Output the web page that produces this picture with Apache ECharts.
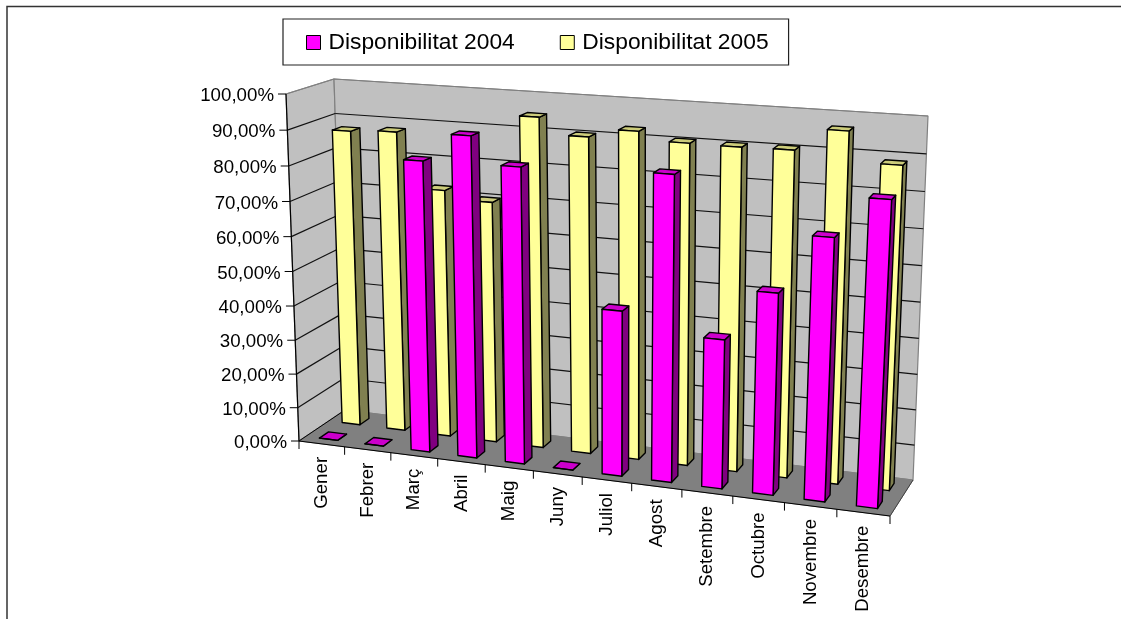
<!DOCTYPE html>
<html><head><meta charset="utf-8">
<style>html,body{margin:0;padding:0;background:#fff}#c{width:1121px;height:619px}</style>
<script src="https://cdn.jsdelivr.net/npm/echarts@6/dist/echarts.min.js"></script>
</head><body><div id="c"></div>
<script>
const categories=['Gener','Febrer','Març','Abril','Maig','Juny','Juliol','Agost','Setembre','Octubre','Novembre','Desembre'];
const disponibilitat2004=[0,0,83.3,91.2,83.7,0,46.6,84.8,41.5,55.5,71.5,82.5];
const disponibilitat2005=[87.2,87.9,72.3,70,94.8,90.3,92.8,90.5,90.4,90.6,96.6,88.6];
const yTicks=[0,10,20,30,40,50,60,70,80,90,100];
const yTickLabels=['0,00%','10,00%','20,00%','30,00%','40,00%','50,00%','60,00%','70,00%','80,00%','90,00%','100,00%'];

const FONT='"Liberation Sans",Arial,sans-serif';
const C={fx:[299,441],ft:[286,94],bx:[345,410],bt:[334,79],rfx:[890,516],rft:[909,135],rbx:[913,480],rbt:[928,116]};
const warp=(t,k)=>k*t/(1-(1-k)*t);
const mix=(a,b,t)=>[a[0]+(b[0]-a[0])*t,a[1]+(b[1]-a[1])*t];
function project(u,v,h){
  const H=warp(h,0.955),U=warp(u,0.92-0.02*H);
  const lf=mix(C.fx,C.ft,H),lb=mix(C.bx,C.bt,H),rf=mix(C.rfx,C.rft,H),rb=mix(C.rbx,C.rbt,H);
  return mix(mix(lf,rf,U),mix(lb,rb,U),v);
}
function norm(api,params,cat,val){
  const cs=params.coordSys,p=api.coord([cat,val]);
  return {u:(p[0]-cs.x)/cs.width,h:(cs.y+cs.height-p[1])/cs.height,band:api.size([1,0])[0]/cs.width};
}
const poly=(pts,fill,stroke,lw)=>({type:'polygon',shape:{points:pts},style:{fill:fill,stroke:stroke||'none',lineWidth:lw||1,lineJoin:'round'}});
const seg=(a,b,stroke,lw)=>({type:'line',shape:{x1:a[0],y1:a[1],x2:b[0],y2:b[1]},style:{stroke:stroke,lineWidth:lw||1}});

function barRenderer(v0,v1,front,side,top){
  return function(params,api){
    const cat=api.value(0),val=api.value(1);
    const n=norm(api,params,cat,val);
    const u0=n.u-0.2*n.band,u1=n.u+0.2*n.band,h=n.h;
    const P=project;
    return {type:'group',children:[
      poly([P(u1,v0,0),P(u1,v1,0),P(u1,v1,h),P(u1,v0,h)],side,'#000',1.4),
      poly([P(u0,v0,h),P(u1,v0,h),P(u1,v1,h),P(u0,v1,h)],top,'#000',1.4),
      poly([P(u0,v0,0),P(u1,v0,0),P(u1,v0,h),P(u0,v0,h)],front,'#000',1.4)
    ]};
  };
}
function planes(){
  return {type:'group',children:[
    poly([project(0,0,0),project(0,1,0),project(0,1,1),project(0,0,1)],'#C0C0C0','#808080',1.2),
    poly([project(0,1,0),project(1,1,0),project(1,1,1),project(0,1,1)],'#C0C0C0','#808080',1.2),
    poly([project(0,0,0),project(1,0,0),project(1,1,0),project(0,1,0)],'#808080','#808080',1)
  ]};
}
function gridRenderer(params,api){
  const n=norm(api,params,0,api.value(1)),h=n.h,i=params.dataIndex;
  const a=project(0,0,h),b=project(0,1,h),c=project(1,1,h);
  const ch=[seg([a[0]-8,a[1]],a,'#000',1)];
  if(h>0.001&&h<0.999){ch.push(seg(a,b,'#111',1.2),seg(b,c,'#111',1.2));}
  if(h<=0.001){ch.push(seg(a,b,'#000',1));}
  if(h>=0.999){ch.push(seg(a,b,'#808080',1.2),seg(b,c,'#808080',1.2));}
  ch.push({type:'text',style:{text:yTickLabels[i],x:a[0]-12,y:a[1]+2,textAlign:'right',textVerticalAlign:'middle',fill:'#000',font:'18.7px '+FONT}});
  return {type:'group',children:ch};
}
function catRenderer(params,api){
  const cat=api.value(0),n=norm(api,params,cat,0),i=params.dataIndex;
  const edge=project(n.u+n.band/2,0,0),mid=project(n.u,0,0);
  const ch=[seg(edge,[edge[0],edge[1]+8],'#000',1)];
  if(i===0){const s=project(0,0,0);ch.push(seg(s,[s[0],s[1]+8],'#000',1));}
  ch.push({type:'text',rotation:Math.PI/2,x:mid[0],y:mid[1]+13,style:{text:categories[i],x:0,y:0,textAlign:'right',textVerticalAlign:'middle',fill:'#000',font:'18.7px '+FONT}});
  return {type:'group',children:ch};
}
function axesRenderer(){
  return {type:'group',children:[
    seg(project(0,0,0),project(0,0,1),'#000',1.2),
    seg(project(0,0,0),project(1,0,0),'#000',1.2),
    seg(project(1,0,0),project(1,1,0),'#404040',1)
  ]};
}
const idx=a=>a.map((v,i)=>[i,v]);
const chart=echarts.init(document.getElementById('c'));
chart.setOption({
  animation:false,
  backgroundColor:'#fff',
  graphic:[{type:'polyline',silent:true,z:0,shape:{points:[[7,630],[7,6.5],[1130,6.5]]},style:{fill:'none',stroke:'#333',lineWidth:1.5}}],
  grid:{left:299,top:94,width:591,height:347},
  xAxis:{type:'category',data:categories,show:false},
  yAxis:{type:'value',min:0,max:100,interval:10,show:false},
  legend:{
    data:['Disponibilitat 2004','Disponibilitat 2005'],
    left:283,top:19,padding:[12,20,11,23],itemGap:45,itemWidth:14,itemHeight:14,
    backgroundColor:'#fff',borderColor:'#222',borderWidth:1.2,
    icon:'rect',
    itemStyle:{borderColor:'#000',borderWidth:1},
    textStyle:{fontFamily:FONT,fontSize:22.8,color:'#000',padding:[0,0,0,3]},
    selectedMode:false
  },
  series:[
    {type:'custom',name:'planes',silent:true,z:1,clip:false,data:[[0,0]],renderItem:planes},
    {type:'custom',name:'rejilla',silent:true,z:2,clip:false,data:yTicks.map(t=>[0,t]),renderItem:gridRenderer},
    {type:'custom',name:'categories',silent:true,z:2,clip:false,data:categories.map((c,i)=>[i,0]),renderItem:catRenderer},
    {type:'custom',name:'axes',silent:true,z:2,clip:false,data:[[0,0]],renderItem:axesRenderer},
    {type:'custom',name:'Disponibilitat 2005',silent:true,z:3,clip:false,data:idx(disponibilitat2005),itemStyle:{color:'#FFFF99'},
      renderItem:barRenderer(0.65,0.85,'#FFFF99','#808050','#CCCC7A')},
    {type:'custom',name:'Disponibilitat 2004',silent:true,z:4,clip:false,data:idx(disponibilitat2004),itemStyle:{color:'#FF00FF'},
      renderItem:barRenderer(0.15,0.35,'#FF00FF','#800080','#CC00CC')}
  ]
});
</script></body></html>
